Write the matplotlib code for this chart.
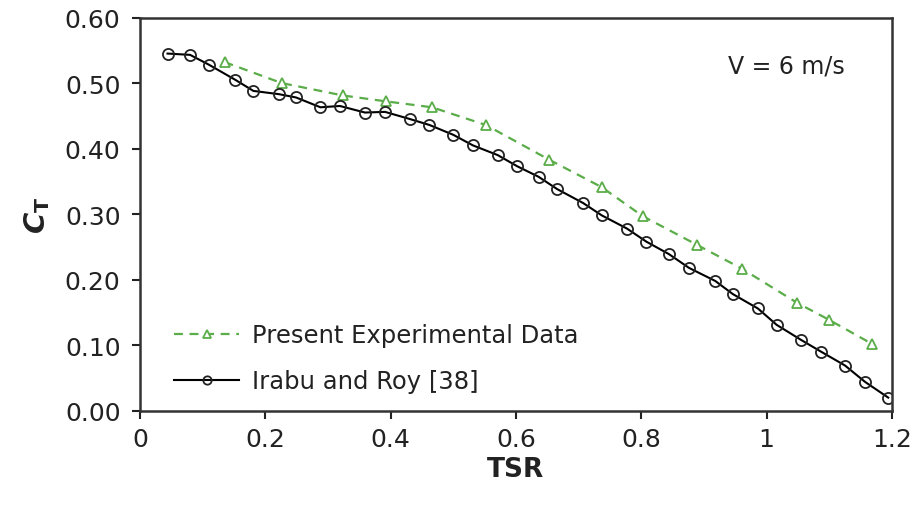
import matplotlib
matplotlib.use('Agg')
import matplotlib.pyplot as plt

# Irabu and Roy [38]
tsr_ref = [0.044, 0.080, 0.110, 0.152, 0.181, 0.222, 0.249, 0.288, 0.319, 0.359,
           0.391, 0.431, 0.462, 0.500, 0.531, 0.571, 0.602, 0.636, 0.666, 0.707,
           0.737, 0.777, 0.808, 0.844, 0.876, 0.918, 0.946, 0.986, 1.016, 1.055,
           1.087, 1.125, 1.157, 1.194]
ct_ref = [0.545, 0.543, 0.528, 0.505, 0.488, 0.483, 0.478, 0.463, 0.465, 0.455,
          0.456, 0.445, 0.436, 0.421, 0.405, 0.390, 0.373, 0.357, 0.338, 0.317,
          0.298, 0.278, 0.258, 0.239, 0.218, 0.198, 0.178, 0.156, 0.131, 0.108,
          0.090, 0.069, 0.044, 0.020]

# Present experimental data
tsr_exp = [0.135, 0.226, 0.324, 0.393, 0.466, 0.552, 0.653, 0.737, 0.802, 0.889,
           0.960, 1.048, 1.099, 1.168]
ct_exp = [0.532, 0.500, 0.481, 0.472, 0.463, 0.436, 0.383, 0.341, 0.297, 0.253,
          0.217, 0.165, 0.139, 0.102]

x_ticks = [0, 0.2, 0.4, 0.6, 0.8, 1.0, 1.2]
x_labels = ['0', '0.2', '0.4', '0.6', '0.8', '1', '1.2']
y_ticks = [0.0, 0.1, 0.2, 0.3, 0.4, 0.5, 0.6]

plt.rcParams['font.family'] = ['DejaVu Sans']

green = '#5aad48'
ink = '#222222'

fig = plt.figure(figsize=(9.16, 5.10), dpi=100)
ax = fig.add_axes([0.1528, 0.1927, 0.821, 0.7710])

ax.plot(tsr_exp, ct_exp, linestyle='--', dashes=(4, 3), color=green, lw=1.6,
        marker='^', markersize=7, markerfacecolor='white', markeredgecolor=green,
        markeredgewidth=1.3, label='Present Experimental Data')
ax.plot(tsr_ref, ct_ref, linestyle='-', color='black', lw=1.5,
        marker='o', markersize=8, markerfacecolor='none', markeredgecolor=ink,
        markeredgewidth=1.3, label='Irabu and Roy [38]')

ax.set_xlim(0, 1.2)
ax.set_ylim(0, 0.6)
ax.set_xticks(x_ticks)
ax.set_xticklabels(x_labels)
ax.set_yticks(y_ticks)
ax.set_yticklabels([f'{v:.2f}' for v in y_ticks])
ax.tick_params(direction='out', length=6, width=1.5, labelsize=18, colors=ink)
ax.tick_params(axis='y', pad=8)
ax.tick_params(axis='x', pad=6)

for s in ax.spines.values():
    s.set_linewidth(1.8)
    s.set_color('#333333')

ax.set_xlabel('TSR', fontsize=19, fontweight='bold', labelpad=3, color=ink)
ax.set_ylabel('C$_\\mathbf{T}$', fontsize=21, fontweight='bold', fontstyle='italic',
              labelpad=9, color=ink)

ax.text(0.86, 0.879, 'V = 6 m/s', transform=ax.transAxes, fontsize=17,
        ha='center', va='center', color=ink)

leg = ax.legend(loc='lower left', bbox_to_anchor=(0.045, 0.045), frameon=False,
                fontsize=17.5, handlelength=2.7, handletextpad=0.5, labelspacing=0.9,
                borderpad=0, borderaxespad=0, markerscale=0.75)
for t in leg.get_texts():
    t.set_color(ink)

fig.savefig('out.png', dpi=100)
